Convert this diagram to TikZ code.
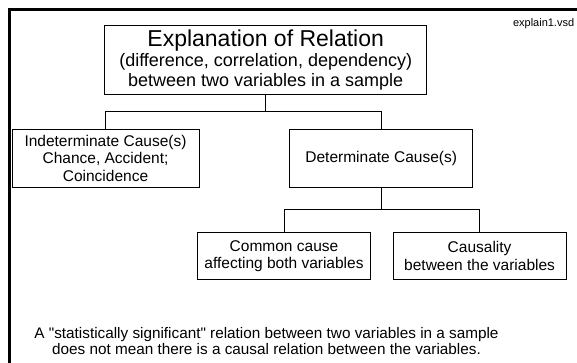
\documentclass[tikz,border=0pt]{standalone}
\usepackage{fontspec}
\setmainfont{Liberation Sans}[Ligatures=TeXOff]

\begin{document}
\begin{tikzpicture}[x=1pt,y=-1pt,line width=1pt,
  box/.style={draw,align=center,inner sep=0pt,font=\fontsize{15.5}{17.5}\selectfont}]
\useasboundingbox (0,0) rectangle (577,362);

% frame
\draw[line width=3pt] (9,365)--(9,9)--(580,9);

\node (file) at (543.6,24) {\fontsize{11}{13}\selectfont explain1.vsd};

\node[box,minimum width=322,minimum height=68.3,font=\fontsize{18}{19.7}\selectfont] (expl) at (265.7,59.85)
  {{\fontsize{23}{19.7}\selectfont Explanation of Relation}\\(difference, correlation, dependency)\\between two variables in a sample};

\node[box,minimum width=187,minimum height=58] (indet) at (105.5,158)
  {Indeterminate Cause(s)\\Chance, Accident;\\Coincidence};
\node[box,minimum width=183,minimum height=58] (det) at (381.2,158) {Determinate Cause(s)};

\node[box,minimum width=173,minimum height=46.6] (common) at (284,256)
  {Common cause\\affecting both variables};
\node[box,minimum width=173,minimum height=46.6] (causal) at (479.6,256)
  {Causality\\between the variables};

\coordinate (j1) at (265.7,111.7);
\coordinate (j2) at (381.2,209.3);

\draw (expl) -- (j1) -| (indet);
\draw (j1) -| (det);
\draw (det) -- (j2) -| (common);
\draw (j2) -| (causal);

\node[align=center,font=\fontsize{15.3}{16.7}\selectfont] (note) at (266.5,341)
  {A "statistically significant" relation between two variables in a sample\\does not mean there is a causal relation between the variables.};

\end{tikzpicture}
\end{document}
